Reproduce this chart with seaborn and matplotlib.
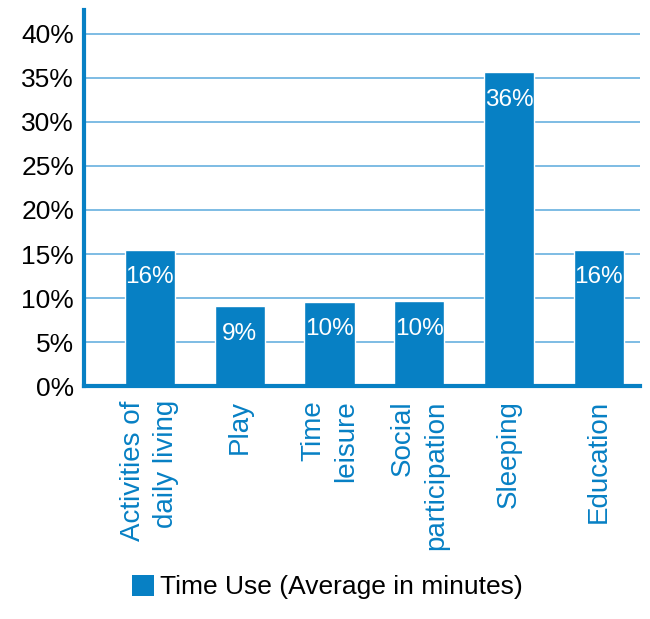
import matplotlib
matplotlib.use('Agg')
import matplotlib.pyplot as plt
from matplotlib.patches import Patch
import seaborn as sns
import pandas as pd

# DADOS
categorias = ['Activities of\ndaily living', 'Play', 'Time\nleisure',
              'Social\nparticipation', 'Sleeping', 'Education']
valores = [15.5, 9.1, 9.6, 9.7, 35.6, 15.5]
rotulos = ['16%', '9%', '10%', '10%', '36%', '16%']
ticks_y = [0, 5, 10, 15, 20, 25, 30, 35, 40]
legenda = 'Time Use (Average in minutes)'

azul = '#0780c4'
grade = '#5aaadd'

sns.set_style('white')
plt.rcParams['font.family'] = ['Liberation Sans', 'DejaVu Sans']

df = pd.DataFrame({'categoria': categorias, 'valor': valores})

fig = plt.figure(figsize=(6.5, 6.19), dpi=100)
ax = fig.add_axes([0.129, 0.376, 0.856, 0.608])

sns.barplot(data=df, x='categoria', y='valor', color=azul, saturation=1,
            width=0.56, ax=ax, zorder=3)

ax.set_xlim(-0.735, 5.46)
ax.set_ylim(0, 42.7)
ax.set_yticks(ticks_y)
ax.set_yticklabels([f'{t}%' for t in ticks_y], fontsize=19, color='black')
for t in ticks_y[1:]:
    ax.axhline(t, color=grade, lw=1.1, zorder=1)

ax.set_xticks(range(len(categorias)))
ax.set_xticklabels(categorias, rotation=90, ha='center', va='top',
                   multialignment='right', fontsize=20, color=azul,
                   linespacing=1.35)
ax.tick_params(axis='both', length=0)
ax.tick_params(axis='y', pad=7)
ax.tick_params(axis='x', pad=10)
ax.set_xlabel('')
ax.set_ylabel('')

for s in ['top', 'right']:
    ax.spines[s].set_visible(False)
for s in ['left', 'bottom']:
    ax.spines[s].set_color(azul)
    ax.spines[s].set_linewidth(3)
    ax.spines[s].set_zorder(4)

# rótulos dentro das barras
for i, (v, r) in enumerate(zip(valores, rotulos)):
    ax.annotate(r, xy=(i, v), xytext=(0, -20), textcoords='offset points',
                ha='center', va='center', color='white', fontsize=17.5, zorder=5)

leg = fig.legend(handles=[Patch(facecolor=azul, edgecolor='none')], labels=[legenda],
                 loc='center left', bbox_to_anchor=(0.203, 1 - 587 / 619),
                 frameon=False, fontsize=19, borderpad=0, borderaxespad=0,
                 handlelength=0.85, handleheight=0.85, handletextpad=0.2)
for txt in leg.get_texts():
    txt.set_color('black')

plt.savefig('out.png', dpi=100)
